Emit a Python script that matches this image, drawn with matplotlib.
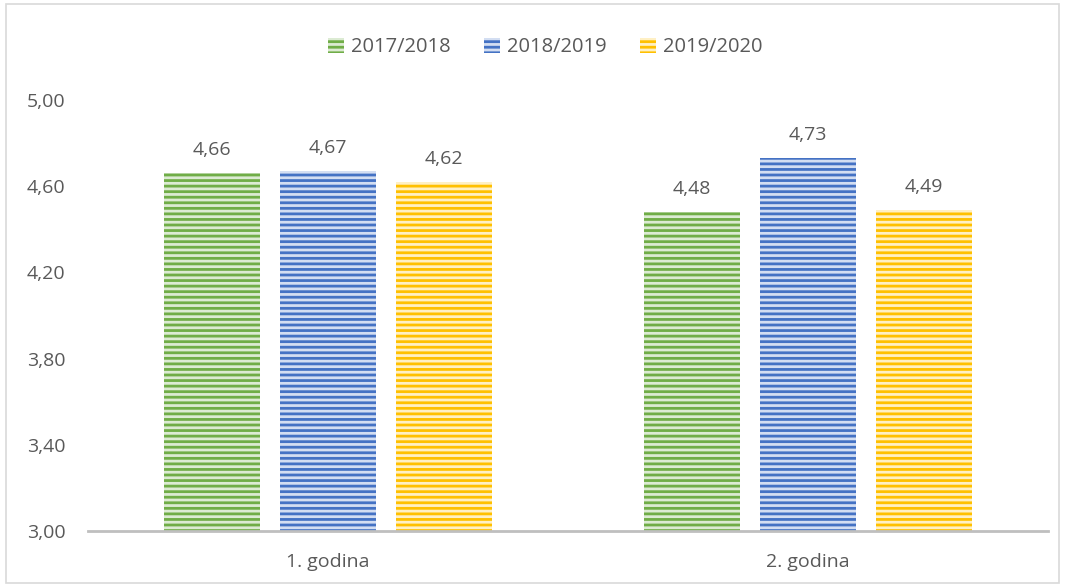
import matplotlib
matplotlib.use("Agg")
import matplotlib.pyplot as plt
from matplotlib.patches import Rectangle
import numpy as np

categories = ["1. godina", "2. godina"]
series_names = ["2017/2018", "2018/2019", "2019/2020"]
values_2017 = [4.66, 4.48]
values_2018 = [4.67, 4.73]
values_2019 = [4.62, 4.49]
yticks = [3.00, 3.40, 3.80, 4.20, 4.60, 5.00]

series = [values_2017, values_2018, values_2019]
edge_colors = ["#70AD47", "#4472C4", "#FFC000"]
face_colors = ["#DCEBD3", "#D3DEF2", "#FFF0C4"]

plt.rcParams['font.family'] = ['Open Sans', 'DejaVu Sans']
plt.rcParams['hatch.linewidth'] = 2.0
text_color = "#595959"
fs = 14

fig = plt.figure(figsize=(10.65, 5.85), dpi=100)
ax = fig.add_axes([0.0826, 0.0923, 0.9014, 0.7368])

x = np.arange(len(categories))
width = 0.2
offset = 0.241
handles = []
for i, (vals, ec, fc) in enumerate(zip(series, edge_colors, face_colors)):
    pos = x + (i - 1) * offset
    bars = ax.bar(pos, [v - 3.0 for v in vals], width, bottom=3.0, color=fc,
                  edgecolor=ec, hatch='---', linewidth=0, label=series_names[i])
    handles.append(bars)
    for p, v in zip(pos, vals):
        ax.text(p, v + 0.065, f"{v:.2f}".replace('.', ','), ha='center', va='bottom',
                fontsize=fs, color=text_color)

ax.set_xlim(-0.5, 1.5)
ax.set_ylim(3.0, 5.0)
ax.set_yticks(yticks)
ax.set_yticklabels([f"{t:.2f}".replace('.', ',') for t in yticks], fontsize=fs, color=text_color)
ax.set_xticks(x)
ax.set_xticklabels(categories, fontsize=fs, color=text_color)
ax.tick_params(axis='both', length=0)
ax.tick_params(axis='y', pad=16)
ax.tick_params(axis='x', pad=16)
for s in ['top', 'right', 'left']:
    ax.spines[s].set_visible(False)
ax.spines['bottom'].set_color('#BFBFBF')
ax.spines['bottom'].set_linewidth(2)
ax.set_clip_on(False)

leg = fig.legend(handles=handles, labels=series_names, loc='center', bbox_to_anchor=(0.512, 0.919),
                 ncol=3, frameon=False, fontsize=14.5, handlelength=0.75, handleheight=0.75,
                 handletextpad=0.35, columnspacing=1.7)
for t in leg.get_texts():
    t.set_color(text_color)

fig.patches.append(Rectangle((0.006, 0.004), 0.988, 0.99, transform=fig.transFigure,
                             fill=False, edgecolor='#D9D9D9', linewidth=1.2))

fig.savefig("out.png", dpi=100)
